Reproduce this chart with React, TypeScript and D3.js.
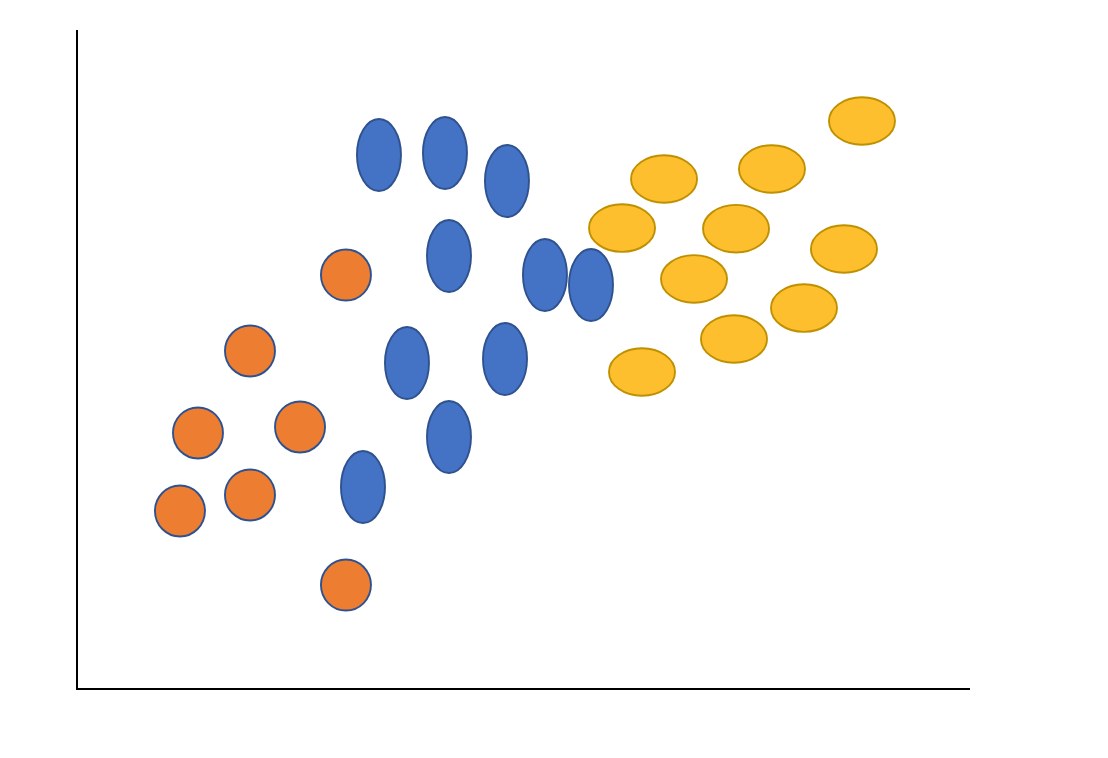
import React from "react";
import * as d3 from "d3";

const orangeX = [30.04, 19.28, 13.45, 24.89, 19.28, 11.43, 30.04];
const orangeY = [62.82, 51.29, 38.85, 39.76, 29.44, 27.01, 15.78];

const blueX = [33.74, 41.14, 48.09, 41.59, 52.35, 57.51, 36.88, 47.87, 41.59, 31.95];
const blueY = [81.03, 81.34, 77.09, 65.71, 62.82, 61.31, 49.47, 50.08, 38.24, 30.65];

const yellowX = [87.89, 65.7, 77.8, 60.99, 73.77, 85.87, 69.06, 81.39, 73.54, 63.23];
const yellowY = [86.19, 77.39, 78.91, 69.95, 69.85, 66.77, 62.22, 57.81, 53.11, 48.1];

const W = 1108;
const H = 758;

export default function App() {
  const x = d3.scaleLinear().domain([0, 100]).range([78, 970]);
  const y = d3.scaleLinear().domain([0, 100]).range([689, 30]);

  const series = [
    { xs: orangeX, ys: orangeY, rx: 25, ry: 25.5, fill: "#ED7D31", stroke: "#2F528F" },
    { xs: blueX, ys: blueY, rx: 22, ry: 36, fill: "#4472C4", stroke: "#2F528F" },
    { xs: yellowX, ys: yellowY, rx: 33, ry: 23.8, fill: "#FDBF2D", stroke: "#BF9000" },
  ];

  return (
    <svg
      width={W}
      height={H}
      style={{ position: "absolute", left: 0, top: 0, background: "#fff" }}
    >
      <rect width={W} height={H} fill="#fff" />
      {series.map((s, si) =>
        s.xs.map((v, i) => (
          <ellipse
            key={`${si}-${i}`}
            cx={x(v)}
            cy={y(s.ys[i])}
            rx={s.rx}
            ry={s.ry}
            fill={s.fill}
            stroke={s.stroke}
            strokeWidth={1.9}
          />
        ))
      )}
      <line x1={x(0) - 1} x2={x(0) - 1} y1={y(100)} y2={y(0) + 1} stroke="#000" strokeWidth={2} />
      <line x1={x(0)} x2={x(100)} y1={y(0)} y2={y(0)} stroke="#000" strokeWidth={2} />
    </svg>
  );
}
